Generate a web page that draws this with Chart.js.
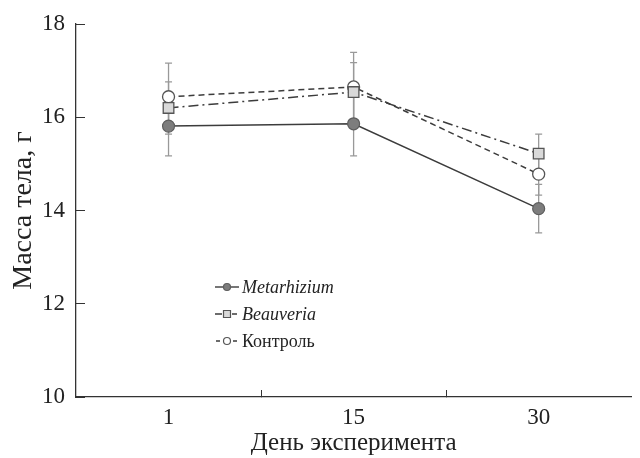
<!DOCTYPE html>
<html>
<head>
<meta charset="utf-8">
<script src="https://cdn.jsdelivr.net/npm/chart.js@4.4.1/dist/chart.umd.min.js"></script>
<style>
  html, body { margin: 0; padding: 0; background: #fff; }
</style>
</head>
<body>
<canvas id="chart" width="640" height="458"></canvas>
<script>
// данные
const days = ['1', '15', '30'];
const metarhizium = [15.81, 15.86, 14.04];
const metarhiziumErr = [0.64, 0.69, 0.52];
const beauveria = [16.2, 16.54, 15.22];
const beauveriaErr = [0.56, 0.63, 0.42];
const control = [16.44, 16.65, 14.78];
const controlErr = [0.72, 0.74, 0.45];
const yTicks = [10, 12, 14, 16, 18];

const serif = "'Liberation Serif', 'DejaVu Serif', serif";

// усы погрешностей
const errorBars = {
  id: 'errorBars',
  beforeDatasetsDraw(chart) {
    const ctx = chart.ctx;
    const y = chart.scales.y;
    ctx.save();
    ctx.strokeStyle = '#999';
    ctx.lineWidth = 1.3;
    chart.data.datasets.forEach((ds, i) => {
      const meta = chart.getDatasetMeta(i);
      meta.data.forEach((pt, j) => {
        const top = y.getPixelForValue(ds.data[j] + ds.errors[j]);
        const bot = y.getPixelForValue(ds.data[j] - ds.errors[j]);
        ctx.beginPath();
        ctx.moveTo(pt.x, top); ctx.lineTo(pt.x, bot);
        ctx.moveTo(pt.x - 3.5, top); ctx.lineTo(pt.x + 3.5, top);
        ctx.moveTo(pt.x - 3.5, bot); ctx.lineTo(pt.x + 3.5, bot);
        ctx.stroke();
      });
    });
    ctx.restore();
  }
};

// легенда внутри графика
const innerLegend = {
  id: 'innerLegend',
  afterDraw(chart) {
    const ctx = chart.ctx;
    const area = chart.chartArea;
    const x0 = area.left + 139;
    const y0 = area.top + 263;
    const rowH = 27;
    ctx.save();
    chart.data.datasets.forEach((ds, i) => {
      const y = y0 + i * rowH;
      ctx.strokeStyle = ds.borderColor;
      ctx.lineWidth = 1.4;
      ctx.setLineDash([]);
      ctx.beginPath();
      if (i === 0) {
        ctx.moveTo(x0, y); ctx.lineTo(x0 + 24, y);
      } else if (i === 1) {
        ctx.moveTo(x0, y); ctx.lineTo(x0 + 7, y);
        ctx.moveTo(x0 + 17, y); ctx.lineTo(x0 + 22, y);
      } else {
        ctx.moveTo(x0 + 1, y); ctx.lineTo(x0 + 5, y);
        ctx.moveTo(x0 + 18, y); ctx.lineTo(x0 + 22, y);
      }
      ctx.stroke();
      ctx.fillStyle = ds.pointBackgroundColor;
      ctx.strokeStyle = ds.pointBorderColor;
      ctx.lineWidth = 1.2;
      ctx.beginPath();
      if (ds.pointStyle === 'rect') {
        ctx.rect(x0 + 8.5, y - 3.5, 7, 7);
      } else {
        ctx.arc(x0 + 12, y, 3.5, 0, Math.PI * 2);
      }
      ctx.fill();
      ctx.stroke();
      ctx.fillStyle = '#222';
      ctx.font = (ds.italic ? 'italic ' : '') + '18px ' + serif;
      ctx.textBaseline = 'middle';
      ctx.fillText(ds.label, x0 + 27, y + 1);
    });
    ctx.restore();
  }
};

const ctx = document.getElementById('chart').getContext('2d');
new Chart(ctx, {
  type: 'line',
  data: {
    labels: days,
    datasets: [
      {
        label: 'Metarhizium',
        italic: true,
        data: metarhizium,
        errors: metarhiziumErr,
        borderColor: '#3c3c3c',
        borderWidth: 1.5,
        pointStyle: 'circle',
        pointRadius: 6,
        pointBackgroundColor: '#7d7d7d',
        pointBorderColor: '#5e5e5e',
        pointBorderWidth: 1.2
      },
      {
        label: 'Beauveria',
        italic: true,
        data: beauveria,
        errors: beauveriaErr,
        borderColor: '#3c3c3c',
        borderWidth: 1.5,
        borderDash: [10, 4, 2, 4],
        pointStyle: 'rect',
        pointRadius: 7.5,
        pointBackgroundColor: '#d9d9d9',
        pointBorderColor: '#555',
        pointBorderWidth: 1.3
      },
      {
        label: 'Контроль',
        italic: false,
        data: control,
        errors: controlErr,
        borderColor: '#3c3c3c',
        borderWidth: 1.5,
        borderDash: [6, 4],
        pointStyle: 'circle',
        pointRadius: 6,
        pointBackgroundColor: '#ffffff',
        pointBorderColor: '#555',
        pointBorderWidth: 1.3
      }
    ]
  },
  options: {
    responsive: false,
    animation: false,
    layout: { padding: { top: 0, right: 2, left: 0, bottom: 0 } },
    plugins: {
      legend: { display: false },
      tooltip: { enabled: false }
    },
    scales: {
      x: {
        type: 'category',
        offset: true,
        afterFit(scale) { scale.height = 61; },
        border: { display: true, color: '#333', width: 1.3 },
        grid: {
          offset: true,
          drawOnChartArea: false,
          drawTicks: true,
          tickLength: -7,
          color: c => (c.index === 1 || c.index === 2) ? '#333' : 'rgba(0,0,0,0)'
        },
        ticks: {
          color: '#222',
          padding: 14,
          font: { family: serif, size: 23 }
        },
        title: {
          display: true,
          text: 'День эксперимента',
          color: '#222',
          padding: { top: 0, bottom: 0 },
          font: { family: serif, size: 25 }
        }
      },
      y: {
        min: 10,
        max: 18,
        afterFit(scale) {
          scale.width = 76;
          scale.paddingTop = 24;
          scale.paddingBottom = 0;
        },
        afterBuildTicks(scale) { scale.ticks = yTicks.map(v => ({ value: v })); },
        border: { display: true, color: '#333', width: 1.3 },
        grid: {
          drawOnChartArea: false,
          drawTicks: true,
          tickLength: -9,
          color: '#333'
        },
        ticks: {
          color: '#222',
          padding: 20,
          font: { family: serif, size: 23 }
        },
        title: {
          display: true,
          text: 'Масса тела, г',
          color: '#222',
          padding: { top: 7, bottom: 0 },
          font: { family: serif, size: 28 }
        }
      }
    }
  },
  plugins: [errorBars, innerLegend]
});
</script>
</body>
</html>
